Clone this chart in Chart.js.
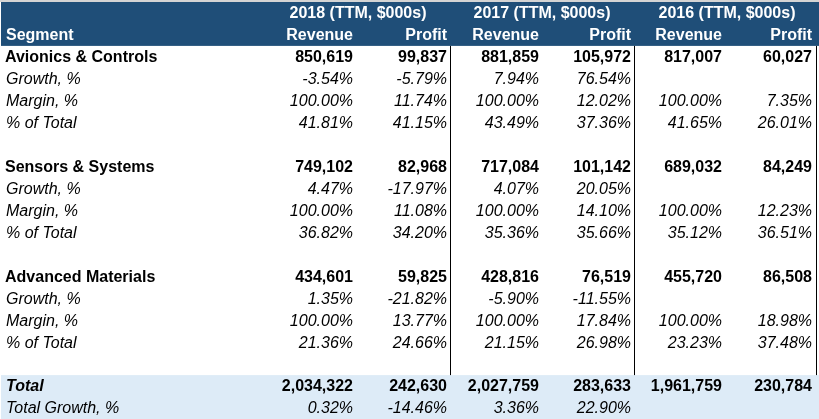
<!DOCTYPE html>
<html>
<head>
<meta charset="utf-8">
<script src="https://cdn.jsdelivr.net/npm/chart.js@4/dist/chart.umd.min.js"></script>
<style>
  html, body { margin: 0; padding: 0; background: #fff; }
  #wrap { width: 819px; height: 419px; }
</style>
</head>
<body>
<div id="wrap"><canvas id="tabela" width="819" height="419"></canvas></div>
<script>
// Dados da tabela
const segments = ['Avionics & Controls', 'Sensors & Systems', 'Advanced Materials'];
const years = ['2018', '2017', '2016'];
const yearSuffix = ' (TTM, $000s)';
const metricLabels = ['Growth, %', 'Margin, %', '% of Total'];

const revenue = [[850619, 881859, 817007], [749102, 717084, 689032], [434601, 428816, 455720]];
const profit = [[99837, 105972, 60027], [82968, 101142, 84249], [59825, 76519, 86508]];
const revenueGrowth = [[-3.54, 7.94, null], [4.47, 4.07, null], [1.35, -5.90, null]];
const profitGrowth = [[-5.79, 76.54, null], [-17.97, 20.05, null], [-21.82, -11.55, null]];
const revenueMargin = [[100, 100, 100], [100, 100, 100], [100, 100, 100]];
const profitMargin = [[11.74, 12.02, 7.35], [11.08, 14.10, 12.23], [13.77, 17.84, 18.98]];
const revenueShare = [[41.81, 43.49, 41.65], [36.82, 35.36, 35.12], [21.36, 21.15, 23.23]];
const profitShare = [[41.15, 37.36, 26.01], [34.20, 35.66, 36.51], [24.66, 26.98, 37.48]];

const totalRevenue = [2034322, 2027759, 1961759];
const totalProfit = [242630, 283633, 230784];
const totalRevenueGrowth = [0.32, 3.36, null];
const totalProfitGrowth = [-14.46, 22.90, null];

// Layout (unidades do eixo x)
const labelX = 5;
const revRight = [353, 539, 722];
const profRight = [447, 631, 812];
const groupCenter = [358, 542, 727];
const dividers = [450, 634, 816];

const FONT = '"Liberation Sans", Arial, sans-serif';
const F_BOLD = 'bold 16px ' + FONT;
const F_ITAL = 'italic 16px ' + FONT;
const F_BOLD_ITAL = 'italic bold 16px ' + FONT;
const HEADER_BG = '#1F4E78';
const TOTAL_BG = '#DDEBF7';

const fmtNum = v => v.toLocaleString('en-US');
const fmtPct = v => (v === null ? '' : v.toFixed(2) + '%');

// Monta as células (x, linha)
function montarCelulas() {
    const cells = [];
    const add = (x, y, text, font, align, color = '#000') => {
        if (text !== '') cells.push({ x, y, text, font, align, color });
    };

    // Cabeçalho
    years.forEach((ano, j) => {
        add(groupCenter[j], 0, ano + yearSuffix, F_BOLD, 'center', '#fff');
        add(revRight[j], 1, 'Revenue', F_BOLD, 'right', '#fff');
        add(profRight[j], 1, 'Profit', F_BOLD, 'right', '#fff');
    });
    add(labelX + 1, 1, 'Segment', F_BOLD, 'left', '#fff');

    // Segmentos
    segments.forEach((seg, i) => {
        const base = 2 + i * 5;
        add(labelX, base, seg, F_BOLD, 'left');
        metricLabels.forEach((m, k) => add(labelX + 1, base + 1 + k, m, F_ITAL, 'left'));
        years.forEach((_, j) => {
            add(revRight[j], base, fmtNum(revenue[i][j]), F_BOLD, 'right');
            add(profRight[j], base, fmtNum(profit[i][j]), F_BOLD, 'right');
            add(revRight[j], base + 1, fmtPct(revenueGrowth[i][j]), F_ITAL, 'right');
            add(profRight[j], base + 1, fmtPct(profitGrowth[i][j]), F_ITAL, 'right');
            add(revRight[j], base + 2, fmtPct(revenueMargin[i][j]), F_ITAL, 'right');
            add(profRight[j], base + 2, fmtPct(profitMargin[i][j]), F_ITAL, 'right');
            add(revRight[j], base + 3, fmtPct(revenueShare[i][j]), F_ITAL, 'right');
            add(profRight[j], base + 3, fmtPct(profitShare[i][j]), F_ITAL, 'right');
        });
    });

    // Totais
    add(labelX + 1, 17, 'Total', F_BOLD_ITAL, 'left');
    add(labelX + 1, 18, 'Total Growth, %', F_ITAL, 'left');
    years.forEach((_, j) => {
        add(revRight[j], 17, fmtNum(totalRevenue[j]), F_BOLD, 'right');
        add(profRight[j], 17, fmtNum(totalProfit[j]), F_BOLD, 'right');
        add(revRight[j], 18, fmtPct(totalRevenueGrowth[j]), F_ITAL, 'right');
        add(profRight[j], 18, fmtPct(totalProfitGrowth[j]), F_ITAL, 'right');
    });
    return cells;
}

// Plugin que desenha fundos, divisórias e textos
const tabelaPlugin = {
    id: 'tabela',
    beforeDatasetsDraw(chart) {
        const { ctx, scales: { x, y } } = chart;
        const fillBand = (r0, r1, color) => {
            const top = y.getPixelForValue(r0);
            const bot = y.getPixelForValue(r1);
            ctx.fillStyle = color;
            ctx.fillRect(x.getPixelForValue(1), top, x.getPixelForValue(819) - x.getPixelForValue(1), bot - top);
        };
        ctx.save();
        ctx.fillStyle = '#d4d4d4';
        ctx.fillRect(0, 0, chart.width, y.getPixelForValue(-0.5));
        fillBand(-0.5, 1.5, HEADER_BG);
        fillBand(16.5, 18.5, TOTAL_BG);

        ctx.strokeStyle = '#000';
        ctx.lineWidth = 1;
        dividers.forEach(d => {
            const px = Math.round(x.getPixelForValue(d)) + 0.5;
            ctx.beginPath();
            ctx.moveTo(px, y.getPixelForValue(1.5));
            ctx.lineTo(px, y.getPixelForValue(16.5));
            ctx.stroke();
        });
        ctx.restore();
    },
    afterDatasetsDraw(chart) {
        const { ctx } = chart;
        const meta = chart.getDatasetMeta(0);
        const dados = chart.data.datasets[0].data;
        ctx.save();
        ctx.textBaseline = 'middle';
        meta.data.forEach((el, i) => {
            const c = dados[i];
            ctx.font = c.font;
            ctx.fillStyle = c.color;
            ctx.textAlign = c.align;
            ctx.fillText(c.text, el.x, el.y + 1);
        });
        ctx.restore();
    },
};

function criarTabela() {
    const canvas = document.getElementById('tabela');
    new Chart(canvas.getContext('2d'), {
        type: 'scatter',
        data: {
            datasets: [{
                data: montarCelulas(),
                pointRadius: 0,
                pointHoverRadius: 0,
            }],
        },
        options: {
            responsive: false,
            animation: false,
            events: [],
            layout: { padding: { top: 2, left: 0, right: 0, bottom: 0 } },
            plugins: { legend: { display: false }, tooltip: { enabled: false } },
            scales: {
                x: { type: 'linear', min: 0, max: 819, display: false },
                y: { type: 'linear', min: -0.5, max: 18.5, reverse: true, display: false },
            },
        },
        plugins: [tabelaPlugin],
    });
}

document.addEventListener('DOMContentLoaded', criarTabela);
</script>
</body>
</html>
